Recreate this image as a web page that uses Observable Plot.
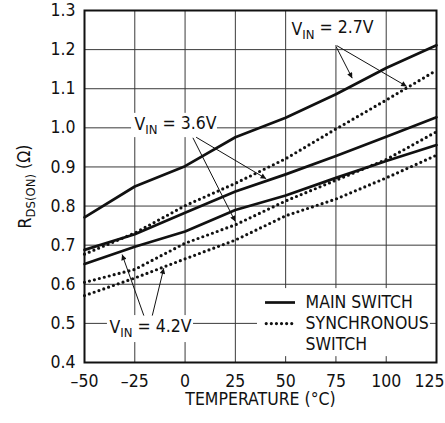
<!DOCTYPE html>
<html>
<head>
<meta charset="utf-8">
<script src="https://cdn.jsdelivr.net/npm/d3@7"></script>
<script src="https://cdn.jsdelivr.net/npm/@observablehq/plot@0.6"></script>
<style>
  html, body { margin: 0; padding: 0; background: #fff; }
  #chart svg { display: block; }
</style>
</head>
<body>
<div id="chart"></div>
<script>
// ---- data ----
const temps  = [-50, -25, 0, 25, 50, 75, 100, 125];
const main27 = [0.771, 0.850, 0.902, 0.976, 1.026, 1.086, 1.153, 1.211];
const sync27 = [0.677, 0.731, 0.801, 0.858, 0.921, 0.997, 1.071, 1.147];
const main36 = [0.688, 0.728, 0.783, 0.837, 0.881, 0.928, 0.977, 1.027];
const sync36 = [0.605, 0.638, 0.705, 0.752, 0.813, 0.866, 0.919, 0.990];
const main42 = [0.652, 0.696, 0.735, 0.790, 0.827, 0.872, 0.915, 0.956];
const sync42 = [0.571, 0.616, 0.665, 0.713, 0.775, 0.818, 0.872, 0.930];
const yTicks = [0.4, 0.5, 0.6, 0.7, 0.8, 0.9, 1.0, 1.1, 1.2, 1.3];
const legendLabels = ["MAIN SWITCH", "SYNCHRONOUS", "SWITCH"];

const seriesDefs = [
  {id: "main27", kind: "main", values: main27},
  {id: "sync27", kind: "sync", values: sync27},
  {id: "main36", kind: "main", values: main36},
  {id: "sync36", kind: "sync", values: sync36},
  {id: "main42", kind: "main", values: main42},
  {id: "sync42", kind: "sync", values: sync42}
];
const rows = seriesDefs.flatMap(s => temps.map((t, i) => ({id: s.id, kind: s.kind, t, r: s.values[i]})));

const FONT = "'DejaVu Sans Condensed', 'Liberation Sans Narrow', 'Arial Narrow', sans-serif";
const FS = 17.5;
const GRID = "#3a3a3a";
const DOTS = {stroke: "#111", strokeWidth: 3.2, strokeDasharray: "0 5.1", strokeLinecap: "round"};

const chart = Plot.plot({
  width: 445,
  height: 423,
  marginLeft: 84,
  marginRight: 9,
  marginTop: 10,
  marginBottom: 61,
  style: {fontFamily: FONT, fontSize: FS + "px", color: "#111", background: "#fff"},
  x: {domain: [-50, 125]},
  y: {domain: [0.4, 1.3]},
  marks: [
    Plot.ruleX(temps.slice(1, -1), {stroke: GRID, strokeWidth: 1}),
    Plot.ruleY(yTicks.slice(1, -1), {stroke: GRID, strokeWidth: 1}),
    // white boxes behind annotations and legend
    Plot.rect([0], {x1: 52.4, x2: 96.2, y1: 1.205, y2: 1.3, fill: "white"}),
    Plot.rect([0], {x1: -26.6, x2: 16.1, y1: 0.975, y2: 1.037, fill: "white"}),
    Plot.rect([0], {x1: -38.6, x2: 4.2, y1: 0.451, y2: 0.52, fill: "white"}),
    Plot.rect([0], {x1: 36.0, x2: 122.0, y1: 0.415, y2: 0.589, fill: "white"}),
    // data lines
    Plot.line(rows.filter(d => d.kind === "main"), {x: "t", y: "r", z: "id", stroke: "#111", strokeWidth: 2.7}),
    Plot.line(rows.filter(d => d.kind === "sync"), {x: "t", y: "r", z: "id", ...DOTS}),
    // annotation arrows
    Plot.link([
      {x1: 74.8, y1: 1.2105, x2: 83.1, y2: 1.127},
      {x1: 75.3, y1: 1.2105, x2: 110.2, y2: 1.106},
      {x1: 5.5, y1: 0.976, x2: 40.3, y2: 0.870},
      {x1: 3.9, y1: 0.9745, x2: 24.9, y2: 0.761},
      {x1: -20.5, y1: 0.52, x2: -31.3, y2: 0.676},
      {x1: -16.3, y1: 0.52, x2: -10.6, y2: 0.641}
    ], {x1: "x1", y1: "y1", x2: "x2", y2: "y2", stroke: "#111", strokeWidth: 1}),
    // annotation labels
    Plot.text(["VIN = 2.7V"], {x: 73.3, y: 1.252, text: d => d, fontSize: FS, fill: "#111"}),
    Plot.text(["VIN = 3.6V"], {x: -4.75, y: 1.008, text: d => d, fontSize: FS, fill: "#111"}),
    Plot.text(["VIN = 4.2V"], {x: -17.2, y: 0.489, text: d => d, fontSize: FS, fill: "#111"}),
    // legend
    Plot.ruleY([0.5534], {x1: 40.0, x2: 54.9, stroke: "#111", strokeWidth: 2.7}),
    Plot.ruleY([0.4996], {x1: 40.6, x2: 54.9, ...DOTS}),
    Plot.text([legendLabels[0]], {x: 59.9, y: 0.5534, text: d => d, textAnchor: "start", fontSize: FS, fill: "#111"}),
    Plot.text([legendLabels[1]], {x: 59.9, y: 0.4996, text: d => d, textAnchor: "start", fontSize: FS, fill: "#111"}),
    Plot.text([legendLabels[2]], {x: 59.9, y: 0.446, text: d => d, textAnchor: "start", fontSize: FS, fill: "#111"}),
    // axes
    Plot.axisX(temps, {tickSize: 0, tickPadding: 12, label: null, fontSize: FS,
      tickFormat: d => d < 0 ? "\u2013" + (-d) : String(d)}),
    Plot.axisY(yTicks, {tickSize: 0, tickPadding: 9, label: null, fontSize: FS,
      tickFormat: d3.format(".1f")}),
    Plot.text(["TEMPERATURE (°C)"], {frameAnchor: "bottom", dy: 37, lineAnchor: "middle", textAnchor: "middle",
      text: d => d, fontSize: FS, fill: "#111"}),
    Plot.text(["RDS(ON) (Ω)"], {frameAnchor: "left", dx: -59, rotate: -90, lineAnchor: "middle", textAnchor: "middle",
      text: d => d, fontSize: FS, fill: "#111"}),
    Plot.frame({stroke: "#111", strokeWidth: 2})
  ]
});

// post-process: subscripts, last tick nudge, filled arrowheads
const svg = d3.select(chart);
svg.selectAll("text").each(function() {
  const el = d3.select(this);
  const s = this.textContent;
  let m;
  if ((m = s.match(/^VIN( = .*)$/))) {
    el.text(null);
    el.append("tspan").text("V");
    el.append("tspan").attr("font-size", 13).attr("dy", "0.32em").text("IN");
    el.append("tspan").attr("dy", "-0.32em").text(m[1]);
  } else if (s === "RDS(ON) (Ω)") {
    el.text(null);
    el.append("tspan").text("R");
    el.append("tspan").attr("font-size", 13).attr("dy", "0.32em").text("DS(ON)");
    el.append("tspan").attr("dy", "-0.32em").text(" (Ω)");
  }
});
svg.selectAll("g[aria-label='x-axis tick label'] text").filter(function() { return this.textContent === "125"; })
  .attr("dx", -7);
const defs = svg.insert("defs", ":first-child");
defs.append("marker")
  .attr("id", "ahead")
  .attr("viewBox", "0 0 10 10")
  .attr("refX", 10).attr("refY", 5)
  .attr("markerUnits", "userSpaceOnUse")
  .attr("markerWidth", 11).attr("markerHeight", 5.5)
  .attr("orient", "auto")
  .append("path").attr("d", "M0,0L10,5L0,10Z").attr("fill", "#111");
svg.selectAll("g[aria-label='link'] path").attr("marker-end", "url(#ahead)");

document.getElementById("chart").appendChild(chart);
</script>
</body>
</html>
